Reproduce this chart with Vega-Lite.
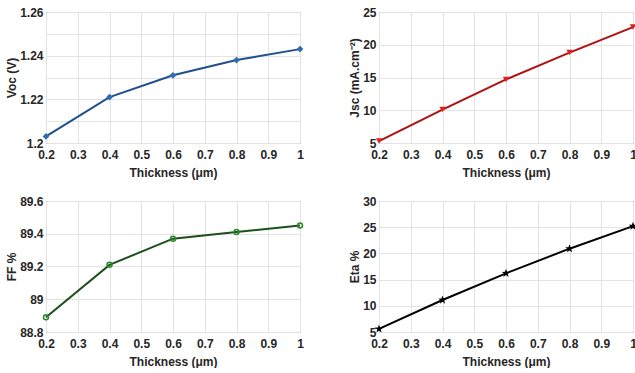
{
  "$schema": "https://vega.github.io/schema/vega-lite/v6.json",
  "background": "white",
  "padding": {"left": 5, "top": 5, "right": 0, "bottom": 0},
  "datasets": {
    "pv": [
      {"thickness": 0.2, "voc": 1.203, "jsc": 5.3, "ff": 88.89, "eta": 5.6},
      {"thickness": 0.4, "voc": 1.221, "jsc": 10.1, "ff": 89.21, "eta": 11.1},
      {"thickness": 0.6, "voc": 1.231, "jsc": 14.7, "ff": 89.37, "eta": 16.2},
      {"thickness": 0.8, "voc": 1.238, "jsc": 18.8, "ff": 89.41, "eta": 20.9},
      {"thickness": 1.0, "voc": 1.243, "jsc": 22.7, "ff": 89.45, "eta": 25.2}
    ]
  },
  "data": {"name": "pv"},
  "columns": 2,
  "spacing": {"row": 58, "column": 79},
  "bounds": "flush",
  "config": {
    "font": "Liberation Sans",
    "view": {"stroke": "#4d4d4d", "strokeWidth": 1},
    "axis": {
      "labelFont": "Liberation Sans",
      "labelFontSize": 12,
      "labelFontWeight": "bold",
      "labelColor": "#262626",
      "titleFont": "Liberation Sans",
      "titleFontSize": 12,
      "titleFontWeight": "bold",
      "titleColor": "#262626",
      "domain": false,
      "ticks": false,
      "gridColor": "#e3e3e3",
      "gridWidth": 1,
      "labelFlush": false,
      "labelOverlap": false
    },
    "axisX": {"titlePadding": 7, "labelPadding": 6},
    "axisY": {"titlePadding": 1, "labelPadding": 3}
  },
  "concat": [
    {
      "width": 254,
      "height": 131,
      "mark": {"type": "line", "color": "#1f4f8f", "strokeWidth": 2, "point": {"shape": "diamond", "filled": true, "size": 45, "color": "#2f6db5"}},
      "encoding": {
        "x": {"field": "thickness", "type": "quantitative", "scale": {"domain": [0.2, 1]}, "axis": {"title": "Thickness (μm)", "values": [0.2,0.3,0.4,0.5,0.6,0.7,0.8,0.9,1], "format": "~f"}},
        "y": {"field": "voc", "type": "quantitative", "scale": {"domain": [1.2, 1.26]}, "axis": {"title": "Voc (V)", "values": [1.2,1.21,1.22,1.23,1.24,1.25,1.26], "labelExpr": "indexof(['1.2','1.22','1.24','1.26'], format(datum.value,'~f')) >= 0 ? format(datum.value,'~f') : ''", "format": "~f"}}
      }
    },
    {
      "width": 254,
      "height": 131,
      "mark": {"type": "line", "color": "#b01010", "strokeWidth": 2, "point": {"shape": "triangle-down", "filled": true, "size": 40, "color": "#e02020"}},
      "encoding": {
        "x": {"field": "thickness", "type": "quantitative", "scale": {"domain": [0.2, 1]}, "axis": {"title": "Thickness (μm)", "values": [0.2,0.3,0.4,0.5,0.6,0.7,0.8,0.9,1], "format": "~f"}},
        "y": {"field": "jsc", "type": "quantitative", "scale": {"domain": [5, 25]}, "axis": {"title": "Jsc (mA.cm⁻²)", "values": [5,10,15,20,25]}}
      }
    },
    {
      "width": 254,
      "height": 131,
      "mark": {"type": "line", "color": "#1d4f1d", "strokeWidth": 2, "point": {"shape": "circle", "filled": false, "size": 25, "color": "#2a8a2a", "strokeWidth": 1.5}},
      "encoding": {
        "x": {"field": "thickness", "type": "quantitative", "scale": {"domain": [0.2, 1]}, "axis": {"title": "Thickness (μm)", "values": [0.2,0.3,0.4,0.5,0.6,0.7,0.8,0.9,1], "format": "~f"}},
        "y": {"field": "ff", "type": "quantitative", "scale": {"domain": [88.8, 89.6]}, "axis": {"title": "FF %", "values": [88.8,89,89.2,89.4,89.6], "format": "~f"}}
      }
    },
    {
      "width": 254,
      "height": 131,
      "mark": {"type": "line", "color": "#000000", "strokeWidth": 2, "point": {"shape": "M0,-1L0.24,-0.33L0.95,-0.31L0.38,0.12L0.59,0.81L0,0.4L-0.59,0.81L-0.38,0.12L-0.95,-0.31L-0.24,-0.33Z", "filled": true, "size": 80, "color": "#000000"}},
      "encoding": {
        "x": {"field": "thickness", "type": "quantitative", "scale": {"domain": [0.2, 1]}, "axis": {"title": "Thickness (μm)", "values": [0.2,0.3,0.4,0.5,0.6,0.7,0.8,0.9,1], "format": "~f"}},
        "y": {"field": "eta", "type": "quantitative", "scale": {"domain": [5, 30]}, "axis": {"title": "Eta %", "values": [5,10,15,20,25,30]}}
      }
    }
  ]
}
